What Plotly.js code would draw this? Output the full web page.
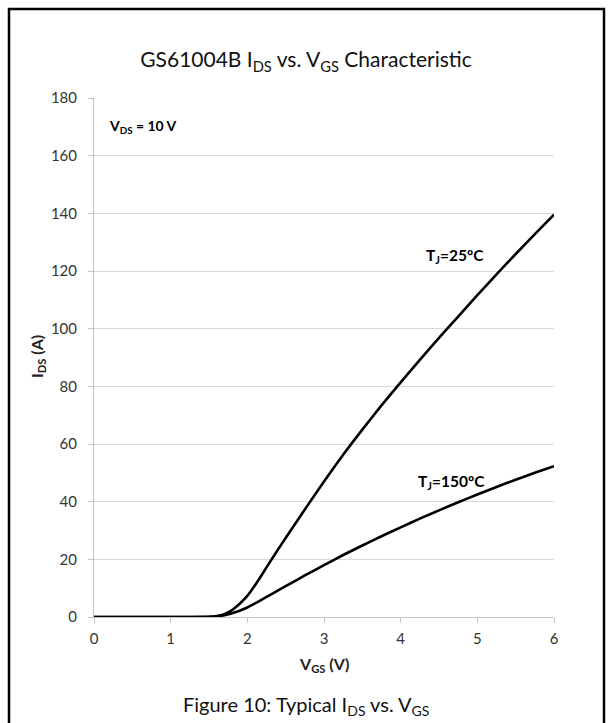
<!DOCTYPE html>
<html>
<head>
<meta charset="utf-8">
<script src="https://cdn.plot.ly/plotly-3.0.1.min.js"></script>
<style>html,body{margin:0;padding:0;background:#fff;}#chart{width:613px;height:723px;}</style>
</head>
<body>
<div id="chart"></div>
<script>
// Data
const vgs25 = [0, 1.0, 1.5, 1.6, 1.7, 1.8, 1.9, 2.0, 2.1, 2.2, 2.3, 2.4, 2.5, 2.75, 3.0, 3.25, 3.5, 3.75, 4.0, 4.25, 4.5, 4.75, 5.0, 5.25, 5.5, 5.75, 6.0];
const ids25 = [0, 0, 0.05, 0.3, 1.0, 2.4, 4.6, 7.3, 11.0, 15.1, 19.3, 23.4, 27.4, 37.3, 47.0, 56.3, 65.0, 73.4, 81.4, 89.2, 96.8, 104.2, 111.6, 118.8, 125.9, 132.8, 139.5];
const vgs150 = [0, 1.0, 1.5, 1.6, 1.7, 1.8, 1.9, 2.0, 2.1, 2.2, 2.3, 2.5, 2.75, 3.0, 3.25, 3.5, 3.75, 4.0, 4.25, 4.5, 4.75, 5.0, 5.25, 5.5, 5.75, 6.0];
const ids150 = [0, 0, 0.05, 0.2, 0.6, 1.3, 2.2, 3.3, 4.7, 6.2, 7.7, 10.7, 14.4, 18.0, 21.5, 24.8, 28.0, 31.1, 34.1, 37.0, 39.8, 42.5, 45.1, 47.6, 50.0, 52.3];
const xTicks = [0, 1, 2, 3, 4, 5, 6];
const yTicks = [0, 20, 40, 60, 80, 100, 120, 140, 160, 180];
const labels = {
  title: 'GS61004B I<sub>DS</sub> vs. V<sub>GS</sub> Characteristic',
  caption: 'Figure 10: Typical I<sub>DS</sub> vs. V<sub>GS</sub>',
  xTitle: '<b>V<sub>GS</sub> (V)</b>',
  yTitle: '<b>I<sub>DS</sub> (A)</b>',
  vds: '<b>V<sub>DS</sub> = 10 V</b>',
  t25: '<b>T<sub>J</sub>=25ºC</b>',
  t150: '<b>T<sub>J</sub>=150ºC</b>'
};

const FONT = 'Lato, "Open Sans", sans-serif';
const traces = [
  {x: vgs25, y: ids25, type: 'scatter', mode: 'lines', line: {color: '#000', width: 2.6, shape: 'spline', smoothing: 0.5}, hoverinfo: 'none'},
  {x: vgs150, y: ids150, type: 'scatter', mode: 'lines', line: {color: '#000', width: 2.6, shape: 'spline', smoothing: 0.5}, hoverinfo: 'none'}
];

// plot area px: left 94, right 554, top 98, bottom 617
const L = 94, R = 554, T = 98, B = 617;
const px = v => (v - L) / (R - L);
const py = v => (B - v) / (B - T);

const layout = {
  width: 613, height: 723,
  margin: {l: L, r: 613 - R, t: T, b: 723 - B, pad: 0},
  paper_bgcolor: '#fff', plot_bgcolor: '#fff',
  showlegend: false,
  font: {family: FONT, color: '#000'},
  title: {text: labels.title, font: {family: FONT, size: 21, color: '#111'}, x: px(306), xref: 'paper', xanchor: 'center', y: 1 - 60 / 723, yanchor: 'middle'},
  xaxis: {
    range: [0, 6], tickvals: xTicks, ticktext: xTicks.map(String),
    showgrid: false, zeroline: false, showline: true, linecolor: '#c4c4c4', linewidth: 1,
    ticks: 'outside', ticklen: 5, tickcolor: '#c4c4c4', ticklabelstandoff: 3,
    tickfont: {family: FONT, size: 15, color: '#333'}, fixedrange: true
  },
  yaxis: {
    range: [0, 180], tickvals: yTicks, ticktext: yTicks.map(String),
    showgrid: true, gridcolor: '#d9d9d9', gridwidth: 1, zeroline: false,
    showline: true, linecolor: '#c4c4c4', linewidth: 1,
    ticks: 'outside', ticklen: 5, tickcolor: '#c4c4c4', ticklabelstandoff: 8,
    tickfont: {family: FONT, size: 15, color: '#333'}, fixedrange: true
  },
  annotations: [
    {text: labels.caption, xref: 'paper', yref: 'paper', x: px(306), y: py(705), xanchor: 'center', yanchor: 'middle', showarrow: false, font: {family: FONT, size: 20, color: '#111'}},
    {text: labels.xTitle, xref: 'paper', yref: 'paper', x: px(324), y: py(664), xanchor: 'center', yanchor: 'middle', showarrow: false, font: {family: FONT, size: 16, color: '#222'}},
    {text: labels.yTitle, xref: 'paper', yref: 'paper', x: px(37), y: py(357), xanchor: 'center', yanchor: 'middle', textangle: -90, showarrow: false, font: {family: FONT, size: 16, color: '#222'}},
    {text: labels.vds, xref: 'paper', yref: 'paper', x: px(107), y: py(127), xanchor: 'left', yanchor: 'middle', showarrow: false, font: {family: FONT, size: 14, color: '#000'}},
    {text: labels.t25, xref: 'paper', yref: 'paper', x: px(424), y: py(256), xanchor: 'left', yanchor: 'middle', showarrow: false, font: {family: FONT, size: 15.5, color: '#000'}},
    {text: labels.t150, xref: 'paper', yref: 'paper', x: px(416), y: py(482), xanchor: 'left', yanchor: 'middle', showarrow: false, font: {family: FONT, size: 15.5, color: '#000'}}
  ],
  shapes: [
    {type: 'path', xref: 'paper', yref: 'paper', layer: 'above',
     path: 'M ' + px(9) + ' ' + py(740) + ' L ' + px(9) + ' ' + py(9) + ' L ' + px(604) + ' ' + py(9) + ' L ' + px(604) + ' ' + py(740),
     line: {color: '#000', width: 2.5}}
  ]
};

Plotly.newPlot('chart', traces, layout, {staticPlot: true, displayModeBar: false});
</script>
</body>
</html>
